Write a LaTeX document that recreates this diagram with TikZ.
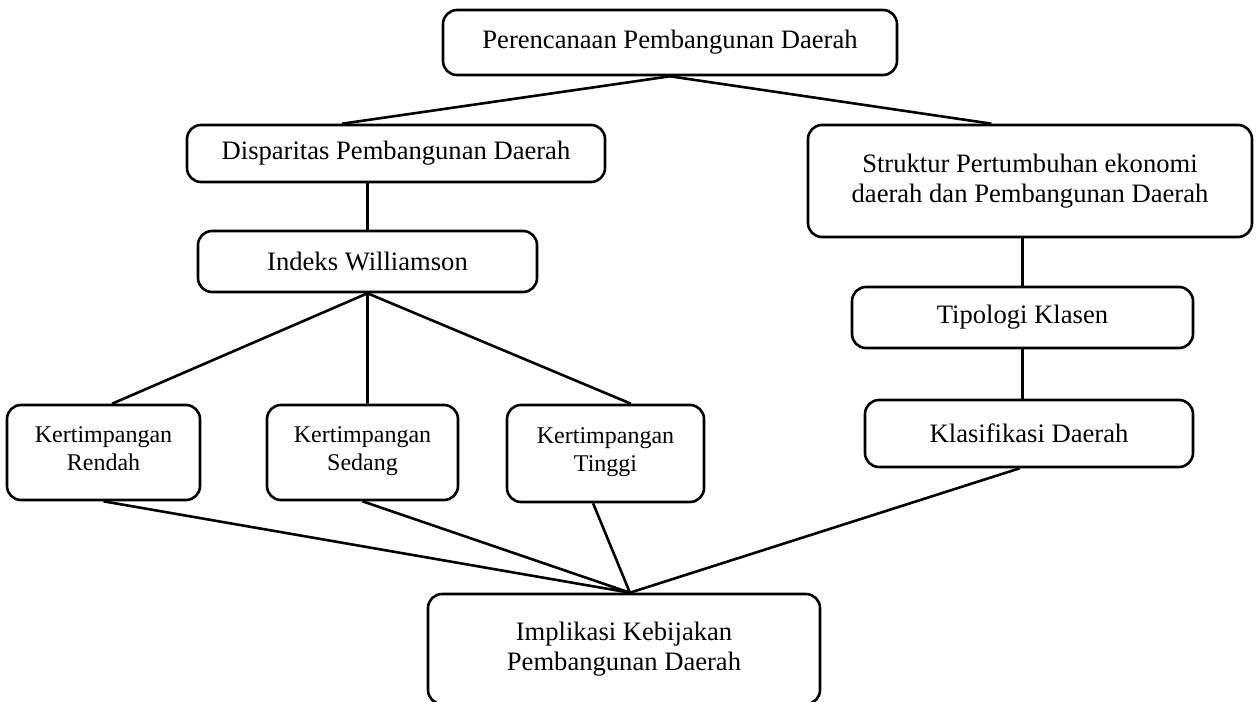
\documentclass[tikz,border=0pt]{standalone}
\usepackage{fontspec}
\setmainfont{Liberation Serif}
\usetikzlibrary{positioning}

\begin{document}
\begin{tikzpicture}[x=1pt, y=-1pt, line width=2.6pt,
    kotak/.style={draw, rounded corners=14pt, align=center, inner sep=0pt,
        font=\fontsize{26.6}{30}\selectfont},
    kecil/.style={kotak, font=\fontsize{24}{28}\selectfont,
        execute at begin node=\rule{0pt}{33pt},
        execute at end node=\strut}]
    \useasboundingbox (0, 0) rectangle (1260, 701);

    \node[kotak, minimum width=454, minimum height=65](perencanaan) at (670, 42.5)
        {Perencanaan Pembangunan Daerah};
    \node[kotak, minimum width=418, minimum height=57](disparitas) at (396, 153.5)
        {Disparitas Pembangunan Daerah};
    \node[kotak, minimum width=339, minimum height=61](williamson) at (367.5, 261.5)
        {Indeks Williamson};
    \node[kotak, minimum width=444, minimum height=112](struktur) at (1030, 181)
        {Struktur Pertumbuhan ekonomi\\daerah dan Pembangunan Daerah};
    \node[kotak, minimum width=341, minimum height=61](tipologi) at (1022.5, 317.5)
        {Tipologi Klasen};
    \node[kotak, minimum width=328, minimum height=67](klasifikasi) at (1029, 433.5)
        {Klasifikasi Daerah};

    \node[kecil, minimum width=193, minimum height=95](rendah) at (103.5, 452.5)
        {Kertimpangan\\Rendah};
    \node[kecil, minimum width=191, minimum height=95](sedang) at (362.5, 452.5)
        {Kertimpangan\\Sedang};
    \node[kecil, minimum width=197, minimum height=97](tinggi) at (605.5, 453.5)
        {Kertimpangan\\Tinggi};
    \node[kotak, minimum width=392, minimum height=110](implikasi) at (624, 649)
        {Implikasi Kebijakan\\Pembangunan Daerah};

    \draw (perencanaan.south) -- (disparitas.151)
    (perencanaan.south) -- (struktur.124);
    \draw (disparitas.south -| williamson.north) -- (williamson.north);

    \draw (williamson.south) -- (rendah.80)
    (williamson.south) -- (williamson.south |- sedang.north)
    (williamson.south) -- (tinggi.63);

    \draw (tipologi.north |- struktur.south) -- (tipologi.north)
    (tipologi.south) -- (klasifikasi.north -| tipologi.south);

    \draw (rendah.south) -- (implikasi.84)
    (sedang.south) -- (implikasi.84)
    (tinggi.-104) -- (implikasi.84)
    (klasifikasi.-105) -- (implikasi.84);
\end{tikzpicture}
\end{document}
